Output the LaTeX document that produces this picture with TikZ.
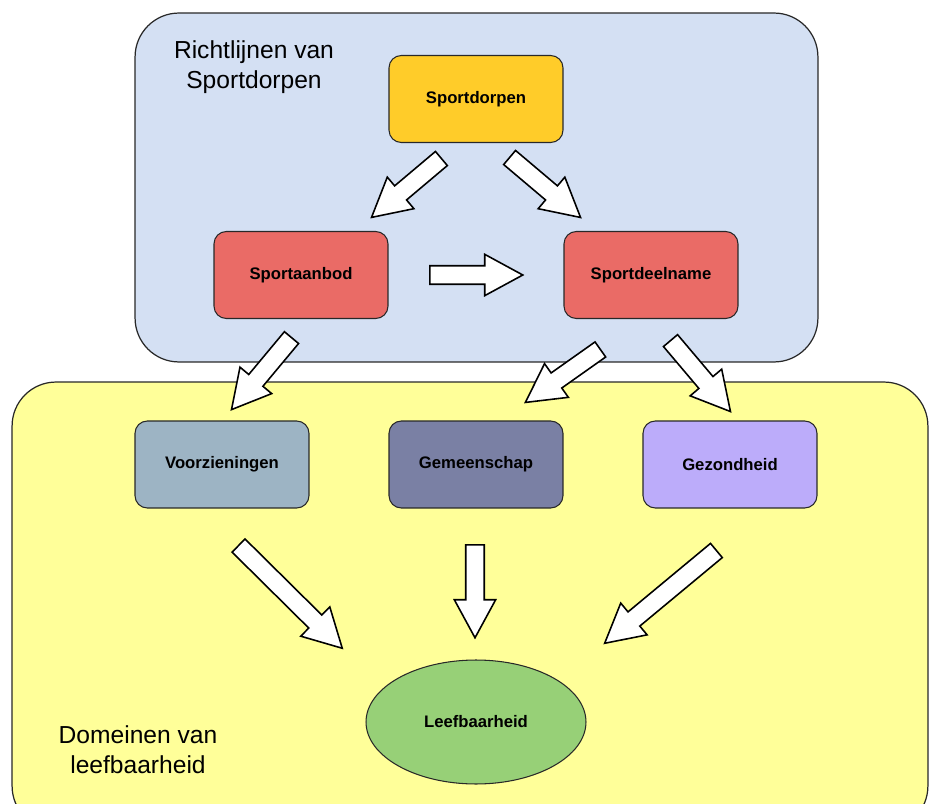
\documentclass[tikz,border=0pt]{standalone}
\usepackage{fontspec}
\setmainfont{Liberation Sans}
\usetikzlibrary{calc,shapes.geometric,shapes.arrows}
\definecolor{blueback}{RGB}{212,224,243}
\definecolor{yellowback}{RGB}{255,255,153}
\definecolor{gold}{RGB}{255,204,41}
\definecolor{redbox}{RGB}{234,107,102}
\definecolor{greyblue}{RGB}{157,180,196}
\definecolor{slate}{RGB}{122,128,164}
\definecolor{lilac}{RGB}{188,172,250}
\definecolor{leafgreen}{RGB}{151,208,119}
\definecolor{edge}{RGB}{40,40,40}

% white block arrow from tail #1 to tip #2
\newcommand{\fatarrow}[2]{%
  \path let \p1=($(#2)-(#1)$), \n1={atan2(\y1,\x1)}, \n2={veclen(\x1,\y1)} in
    node[fatarr, rotate=\n1, minimum height=\n2, anchor=tail] at (#1) {};
}

\begin{document}
\begin{tikzpicture}[
    x=0.02cm, y=-0.02cm,
    every node/.style={font=\fontsize{9.5}{11}\selectfont\bfseries},
    panel/.style={
      rectangle,
      rounded corners=25pt,
      draw=edge,
      line width=0.7pt
    },
    box/.style={
      rectangle,
      rounded corners=7pt,
      draw=edge,
      line width=0.6pt,
      align=center,
      minimum width=3.48cm,
      minimum height=1.74cm
    },
    caption/.style={font=\fontsize{14}{17}\selectfont, align=center},
    fatarr/.style={
      single arrow,
      draw=black,
      fill=white,
      line width=0.9pt,
      inner sep=4.8pt,
      single arrow head extend=6.5pt,
      single arrow tip angle=57
    }
  ]
    \useasboundingbox (0,0) rectangle (930,804);

    % the two domains
    \node[panel, fill=blueback, minimum width=13.66cm, minimum height=6.98cm] (richtlijnen) at (476.5,187.5) {};
    \node[panel, fill=yellowback, minimum width=18.32cm, minimum height=8.96cm] (domeinen) at (470,606) {};
    \node[caption] (richtlijnenlabel) at (254,67) {Richtlijnen van\\Sportdorpen};
    \node[caption] (domeinenlabel) at (138,750) {Domeinen van\\leefbaarheid};

    % boxes
    \node[box, fill=gold] (dorpen) at (476,99) {Sportdorpen};
    \node[box, fill=redbox] (aanbod) at (301,275) {Sportaanbod};
    \node[box, fill=redbox] (deelname) at (651,275) {Sportdeelname};
    \node[box, fill=greyblue] (voorz) at (222,464.5) {Voorzieningen};
    \node[box, fill=slate] (gemeen) at (476,464.5) {Gemeenschap};
    \node[box, fill=lilac] (gezond) at (730,464.5) {Gezondheid};
    \node[ellipse, draw=edge, line width=0.6pt, fill=leafgreen, minimum width=4.4cm, minimum height=2.48cm] (leef) at (476,722) {Leefbaarheid};

    % arrow ends
    \coordinate (t1) at (442,158);  \coordinate (h1) at (372,217);
    \coordinate (t2) at (509,157);  \coordinate (h2) at (580,217);
    \coordinate (t3) at (429,275);  \coordinate (h3) at (522,275);
    \coordinate (t4) at (292,337);  \coordinate (h4) at (232,409);
    \coordinate (t5) at (601,349);  \coordinate (h5) at (526,402);
    \coordinate (t6) at (670,340);  \coordinate (h6) at (730,411);
    \coordinate (t7) at (238,545);  \coordinate (h7) at (342,648);
    \coordinate (t8) at (475,544);  \coordinate (h8) at (475,637);
    \coordinate (t9) at (717,550);  \coordinate (h9) at (605,643);

    \foreach \i in {1,...,9}{
      \fatarrow{t\i}{h\i}
    }
  \end{tikzpicture}
\end{document}
